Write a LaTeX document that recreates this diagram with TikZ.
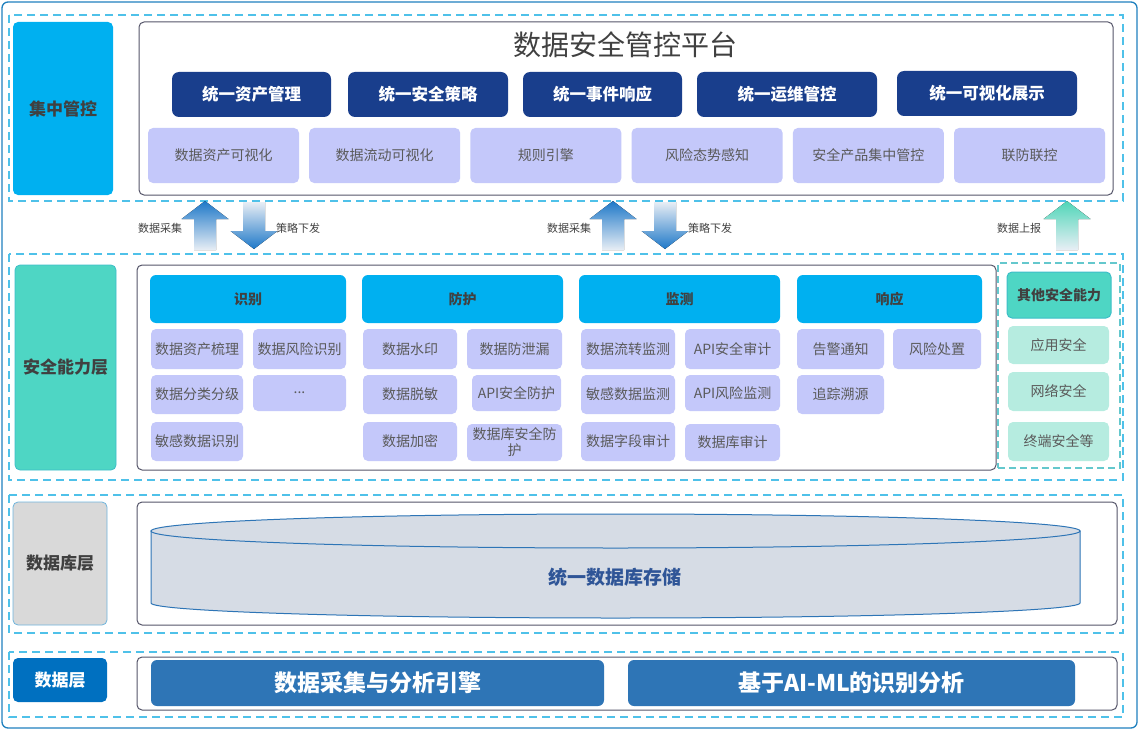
\documentclass[tikz,border=0pt]{standalone}
\usepackage{fontspec}
\setmainfont{Noto Sans CJK SC}
\usetikzlibrary{positioning}
\definecolor{outerblue}{RGB}{30,128,190}
\definecolor{dashblue}{RGB}{79,193,233}
\definecolor{ctrlblue}{RGB}{0,176,240}
\definecolor{capteal}{RGB}{78,214,196}
\definecolor{tealedge}{RGB}{60,190,200}
\definecolor{navy}{RGB}{25,62,140}
\definecolor{lilac}{RGB}{196,200,250}
\definecolor{mint}{RGB}{182,236,224}
\definecolor{dbgrey}{RGB}{217,217,217}
\definecolor{dbedge}{RGB}{110,180,220}
\definecolor{datablue}{RGB}{0,112,192}
\definecolor{engblue}{RGB}{46,117,182}
\definecolor{cylfill}{RGB}{214,220,229}
\definecolor{cyledge}{RGB}{46,117,182}
\definecolor{cyltext}{RGB}{47,85,151}
\definecolor{itemgrey}{RGB}{90,90,90}
\definecolor{labelgrey}{RGB}{64,64,64}
\definecolor{paneledge}{RGB}{85,85,105}
\definecolor{arrowblue}{RGB}{30,120,200}
\definecolor{arrowpale}{RGB}{232,238,245}
\definecolor{arrowteal}{RGB}{80,214,184}
\definecolor{otheredge}{RGB}{100,200,205}
\tikzset{
	layer/.style={draw=dashblue, dash pattern=on 8pt off 5pt, line width=1.3pt},
	panel/.style={draw=paneledge, line width=1pt, rounded corners=5pt, fill=white, outer sep=0pt},
	sidelabel/.style={rounded corners=5pt, inner sep=0pt, outer sep=0pt, text=labelgrey, font=\fsside\bfseries},
}
\def\fstitle{\fontsize{28}{32}\selectfont}
\def\fsunify{\fontsize{16.5}{19}\selectfont}
\def\fsitem{\fontsize{14}{16}\selectfont}
\def\fshead{\fontsize{14}{16}\selectfont}
\def\fsside{\fontsize{17}{20}\selectfont}
\def\fsflow{\fontsize{11}{13}\selectfont}
\def\fsengine{\fontsize{23}{26}\selectfont}
\newcommand{\boxat}[7]{%
	\node[#1, minimum width={(#5)-(#3)}, minimum height={(#6)-(#4)}] (#2) at ({((#3)+(#5))/2},{((#4)+(#6))/2}) {#7};}
\newcommand{\uparr}[5]{%
	\fill[top color=#4, bottom color=#5] (#1,#2) -- ({#1+23.5},{#2+18}) -- ({#1+11},{#2+18}) -- ({#1+11},#3) -- ({#1-11},#3) -- ({#1-11},{#2+18}) -- ({#1-23.5},{#2+18}) -- cycle;}
\newcommand{\downarr}[5]{%
	\fill[top color=#4, bottom color=#5] (#1,#3) -- ({#1+23.5},{#3-18}) -- ({#1+11},{#3-18}) -- ({#1+11},#2) -- ({#1-11},#2) -- ({#1-11},{#3-18}) -- ({#1-23.5},{#3-18}) -- cycle;}
\begin{document}
\begin{tikzpicture}[x=1pt, y=-1pt]

	\tikzstyle{unify}=[rounded corners=7pt, fill=navy, text=white, font=\fsunify\bfseries, inner sep=0pt]
	\tikzstyle{item}=[rounded corners=5pt, fill=lilac, text=itemgrey, font=\fsitem, inner sep=1pt, align=center]
	\tikzstyle{head}=[rounded corners=6pt, fill=ctrlblue, text=labelgrey, font=\fshead\bfseries, inner sep=0pt]
	\tikzstyle{other}=[rounded corners=5pt, fill=mint, text=itemgrey, font=\fsitem, inner sep=0pt]
	\tikzstyle{flowlabel}=[text=labelgrey, font=\fsflow, inner sep=1pt]
	\tikzstyle{engine}=[rounded corners=6pt, fill=engblue, text=white, font=\fsengine\bfseries, inner sep=0pt]

	\useasboundingbox (0,0) rectangle (1139,730);
	\draw[outerblue, line width=1.3pt, rounded corners=6pt] (2,2) rectangle (1137,728);

	% layers
	\draw[layer] (9,15) rectangle (1123,201);
	\draw[layer] (9,254) rectangle (1123,480);
	\draw[layer] (9,495) rectangle (1123,633);
	\draw[layer] (9,652) rectangle (1123,717);

	% side labels
	\boxat{sidelabel, fill=ctrlblue}{ctrl}{13}{22}{113}{195}{集中管控}
	\boxat{sidelabel, fill=capteal, draw=tealedge, line width=0.8pt}{cap}{15}{265}{116}{470}{安全能力层}
	\boxat{sidelabel, fill=dbgrey, draw=dbedge, line width=0.8pt}{dblayer}{13}{502}{107}{625}{数据库层}
	\boxat{sidelabel, fill=datablue, text=white}{datalayer}{13}{658}{107}{702}{数据层}

	% panels
	\boxat{panel}{platform}{139}{22}{1113}{195}{}
	\boxat{panel}{ability}{137}{265}{996}{470}{}
	\boxat{panel, fill=none, draw=otheredge, dash pattern=on 7pt off 4pt, line width=1.2pt, rounded corners=0pt}{otherframe}{998}{263}{1120}{468}{}
	\boxat{panel}{dbpanel}{137}{502}{1117}{625}{}
	\boxat{panel}{datapanel}{137}{657}{1117}{710}{}

	% platform
	\node[font=\fstitle, text=labelgrey] (ptitle) at (625,45) {数据安全管控平台};
	\boxat{unify}{u1}{172}{72}{331}{117}{统一资产管理}
	\boxat{unify}{u2}{348}{72}{508}{117}{统一安全策略}
	\boxat{unify}{u3}{523}{72}{682}{117}{统一事件响应}
	\boxat{unify}{u4}{697}{72}{877}{117}{统一运维管控}
	\boxat{unify}{u5}{897}{71}{1077}{116}{统一可视化展示}
	\foreach \n [count=\i from 0] in {数据资产可视化, 数据流动可视化, 规则引擎, 风险态势感知, 安全产品集中管控, 联防联控} {
		\boxat{item}{v\i}{148+\i*161.2}{128}{299+\i*161.2}{183}{\n}
	}

	% flows between layers
	\uparr{205}{201}{250}{arrowblue}{arrowpale}
	\downarr{254}{202}{249}{arrowpale}{arrowblue}
	\uparr{613}{201}{250}{arrowblue}{arrowpale}
	\downarr{665}{202}{249}{arrowpale}{arrowblue}
	\uparr{1067}{201}{250}{arrowteal}{arrowpale}
	\node[flowlabel] (collect1) at (160,228) {数据采集};
	\node[flowlabel] (issue1) at (298,228) {策略下发};
	\node[flowlabel] (collect2) at (569,228) {数据采集};
	\node[flowlabel] (issue2) at (710,228) {策略下发};
	\node[flowlabel] (report) at (1019,228) {数据上报};

	% capability
	\boxat{head}{h1}{150}{275}{346}{323}{识别}
	\boxat{head}{h2}{362}{275}{563}{323}{防护}
	\boxat{head}{h3}{579}{275}{780}{323}{监测}
	\boxat{head}{h4}{797}{275}{982}{323}{响应}

	\boxat{item}{i11}{151}{329}{243}{369}{数据资产梳理}
	\boxat{item}{i12}{253}{329}{346}{369}{数据风险识别}
	\boxat{item}{i21}{151}{375}{243}{414}{数据分类分级}
	\boxat{item}{i22}{253}{375}{346}{411}{...}
	\boxat{item}{i31}{151}{422}{243}{461}{敏感数据识别}

	\boxat{item}{p11}{363}{329}{457}{369}{数据水印}
	\boxat{item}{p12}{467}{329}{562}{369}{数据防泄漏}
	\boxat{item}{p21}{363}{375}{457}{414}{数据脱敏}
	\boxat{item}{p22}{472}{375}{561}{411}{API安全防护}
	\boxat{item}{p31}{363}{422}{457}{461}{数据加密}
	\boxat{item}{p32}{467}{424}{562}{461}{数据库安全防\\护}

	\boxat{item}{m11}{581}{329}{675}{369}{数据流转监测}
	\boxat{item}{m12}{685}{329}{780}{369}{API安全审计}
	\boxat{item}{m21}{581}{375}{675}{414}{敏感数据监测}
	\boxat{item}{m22}{685}{375}{780}{411}{API风险监测}
	\boxat{item}{m31}{581}{422}{675}{461}{数据字段审计}
	\boxat{item}{m32}{685}{424}{780}{461}{数据库审计}

	\boxat{item}{r11}{797}{329}{884}{369}{告警通知}
	\boxat{item}{r12}{893}{329}{981}{369}{风险处置}
	\boxat{item}{r21}{797}{375}{884}{414}{追踪溯源}

	\boxat{other, fill=capteal, draw=tealedge, line width=1pt, text=labelgrey, font=\fshead\bfseries}{o0}{1007}{272}{1111}{318}{其他安全能力}
	\boxat{other}{o1}{1008}{326}{1109}{364}{应用安全}
	\boxat{other}{o2}{1008}{372}{1109}{411}{网络安全}
	\boxat{other}{o3}{1008}{422}{1109}{461}{终端安全等}

	% database
	\filldraw[fill=cylfill, draw=cyledge, line width=1pt] (151,531) -- (151,603) arc[start angle=180, end angle=0, x radius=464.5, y radius=15] -- (1080,531) -- cycle;
	\draw[cyledge, line width=1pt, fill=cylfill] (615.5,531) ellipse [x radius=464.5, y radius=17];
	\node[text=cyltext, font=\fontsize{19}{22}\selectfont\bfseries] (dbstore) at (615,577) {统一数据库存储};

	% data
	\boxat{engine}{e1}{151}{660}{604}{706}{数据采集与分析引擎}
	\boxat{engine}{e2}{628}{660}{1075}{706}{基于AI-ML的识别分析}
\end{tikzpicture}
\end{document}
